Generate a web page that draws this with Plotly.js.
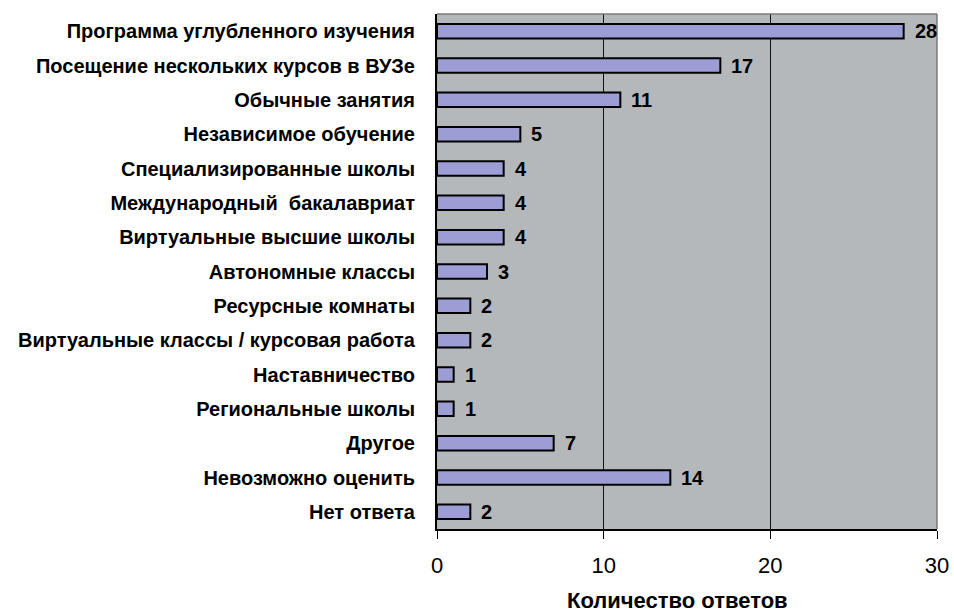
<!DOCTYPE html>
<html>
<head>
<meta charset="utf-8">
<script src="https://cdn.plot.ly/plotly-3.0.1.min.js"></script>
<style>
html,body{margin:0;padding:0;background:#fff;}
#chart{width:954px;height:615px;}
</style>
</head>
<body>
<div id="chart"></div>
<script>
const categories = [
  "Программа углубленного изучения",
  "Посещение нескольких курсов в ВУЗе",
  "Обычные занятия",
  "Независимое обучение",
  "Специализированные школы",
  "Международный  бакалавриат",
  "Виртуальные высшие школы",
  "Автономные классы",
  "Ресурсные комнаты",
  "Виртуальные классы / курсовая работа",
  "Наставничество",
  "Региональные школы",
  "Другое",
  "Невозможно оценить",
  "Нет ответа"
];
const values = [28, 17, 11, 5, 4, 4, 4, 3, 2, 2, 1, 1, 7, 14, 2];
const xTicks = [0, 10, 20, 30];
const xTitle = "Количество ответов";

const FONT = "Liberation Sans, Arial, sans-serif";

const trace = {
  type: "bar",
  orientation: "h",
  x: values,
  y: categories,
  width: 0.42,
  marker: {color: "#9d9dd6", line: {color: "#000000", width: 2}},
  hoverinfo: "skip"
};

const annotations = values.map((v, i) => ({
  x: v, y: categories[i], xref: "x", yref: "y",
  text: String(v), showarrow: false,
  xanchor: "left", yanchor: "middle", xshift: 9,
  font: {family: FONT, size: 20, color: "#000", weight: "bold"}
}));
annotations.push({
  x: 0.48, y: -0.138, xref: "paper", yref: "paper",
  text: xTitle, showarrow: false, xanchor: "center", yanchor: "middle",
  font: {family: FONT, size: 22, color: "#000", weight: "bold"}
});

const layout = {
  width: 954, height: 615,
  margin: {l: 437, r: 17, t: 14, b: 86},
  paper_bgcolor: "#ffffff",
  plot_bgcolor: "#b5b8bb",
  showlegend: false,
  xaxis: {
    range: [0, 30],
    tickvals: xTicks,
    ticktext: xTicks.map(String),
    showgrid: true, gridcolor: "#111111", gridwidth: 1,
    zeroline: false,
    showline: true, linecolor: "#000000", linewidth: 2,
    ticks: "outside", ticklen: 8, tickcolor: "#000", tickwidth: 1,
    ticklabelstandoff: 8,
    tickfont: {family: FONT, size: 22, color: "#000"}
  },
  yaxis: {
    autorange: "reversed",
    showgrid: false, zeroline: false,
    showline: true, linecolor: "#000000", linewidth: 2,
    ticks: "", ticklabelstandoff: 16,
    tickfont: {family: FONT, size: 20, color: "#000", weight: "bold"}
  },
  shapes: [
    {type: "line", xref: "paper", yref: "paper", x0: 0, x1: 1, y0: 1, y1: 1,
     line: {color: "#7a7a7a", width: 1.5}, layer: "above"},
    {type: "line", xref: "paper", yref: "paper", x0: 1, x1: 1, y0: 0, y1: 1,
     line: {color: "#7a7a7a", width: 1.5}, layer: "above"}
  ],
  annotations: annotations
};

Plotly.newPlot("chart", [trace], layout, {displayModeBar: false, staticPlot: true});
</script>
</body>
</html>
